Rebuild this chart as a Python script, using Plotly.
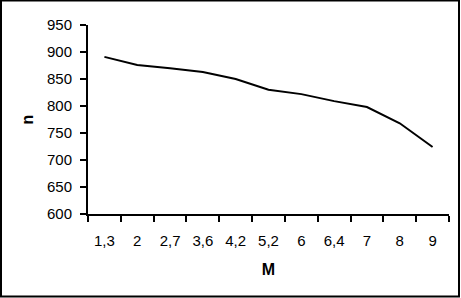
import plotly.graph_objects as go

categories = ["1,3", "2", "2,7", "3,6", "4,2", "5,2", "6", "6,4", "7", "8", "9"]
n_values = [891, 876, 870, 863, 850, 830, 822, 809, 798, 768, 724]
y_ticks = [600, 650, 700, 750, 800, 850, 900, 950]

W, H = 461, 298
ML, MR, MT, MB = 88, 12, 25, 84
pw, ph = W - ML - MR, H - MT - MB

fig = go.Figure(go.Scatter(
    x=categories, y=n_values, mode="lines",
    line=dict(color="black", width=2), hoverinfo="skip"))

font = "Liberation Sans, Arial, sans-serif"
fig.update_layout(
    width=W, height=H,
    margin=dict(l=ML, r=MR, t=MT, b=MB),
    paper_bgcolor="white", plot_bgcolor="white",
    showlegend=False,
    font=dict(family=font, size=15, color="black"),
    xaxis=dict(
        type="category", range=[-0.5, len(categories) - 0.5],
        showline=True, linecolor="black", linewidth=2,
        ticks="outside", ticklen=6, tickwidth=2, tickcolor="black",
        tickson="boundaries", showgrid=False, zeroline=False,
        ticklabelstandoff=12,
        title=dict(text="<b>M</b>", font=dict(size=16), standoff=16),
    ),
    yaxis=dict(
        range=[600, 950], tickvals=y_ticks,
        showline=True, linecolor="black", linewidth=2,
        ticks="outside", ticklen=6, tickwidth=2, tickcolor="black",
        showgrid=False, zeroline=False,
        ticklabelstandoff=5,
        title=dict(text="<b>n</b>", font=dict(size=16), standoff=9),
    ),
)

# outer frame around the whole image
def px_x(p):
    return (p - ML) / pw

def px_y(p):
    return 1 - (p - MT) / ph

fig.add_shape(type="rect", xref="paper", yref="paper",
              x0=px_x(1), x1=px_x(459), y0=px_y(296.5), y1=px_y(0.5),
              line=dict(color="black", width=2), layer="above")

fig.write_html("out.html")
